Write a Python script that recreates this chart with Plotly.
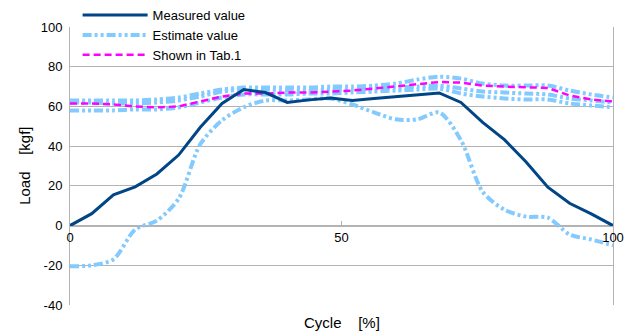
import plotly.graph_objects as go

cycle = [0, 4, 8, 12, 16, 20, 24, 28, 32, 36, 40, 44, 48, 52, 56, 60, 64, 68, 72, 76, 80, 84, 88, 92, 96, 100]

measured = [0, 6, 15.5, 19.5, 26, 35.5, 49.5, 61.5, 68.5, 67, 62, 63.3, 64.2, 63, 64, 65, 66, 66.8, 62, 52, 43.3, 32, 19.3, 11.2, 5.9, 0]

est_1 = [63, 63, 63, 63, 63.5, 64.5, 66.5, 68.5, 69.5, 69.5, 69.5, 69.5, 70, 70, 70.5, 71.5, 73.5, 75, 74, 71.5, 70.5, 70.5, 70.5, 68, 66, 64.5]
est_2 = [62, 62, 61.5, 61.5, 62, 63, 65, 67.5, 68.5, 68.5, 68, 68, 68.5, 68.5, 69, 69.5, 70, 70.5, 69, 67.5, 67, 66.5, 66, 64, 63, 62]
est_3 = [58, 58, 58, 58.5, 58.5, 59.5, 62, 64.5, 66, 66, 66, 66.5, 66.5, 67, 67.5, 68, 68.5, 69, 66.5, 65, 64, 63.5, 63.5, 61.5, 60.5, 59.5]
est_4 = [-20.5, -20, -17, -2, 2.5, 13.5, 41, 53, 59.6, 63, 63, 63.5, 64, 61, 57, 53.5, 53.5, 57, 43, 17, 8, 4.5, 4, -4.5, -7, -10]

tab1 = [61.5, 61.5, 61, 60, 59.5, 60, 62.5, 65, 66.5, 66.5, 67, 67, 67.5, 68, 69, 70, 71, 72.3, 72, 70.5, 70, 69.8, 69.3, 65.5, 63.5, 62.5]

x_ticks = [0, 50, 100]
y_ticks = [-40, -20, 0, 20, 40, 60, 80, 100]

FONT = "Liberation Sans, Arial, sans-serif"
EST_COLOR = "#83CAFF"
MEAS_COLOR = "#004586"
TAB_COLOR = "#FF00FF"
GRID = "#b3b3b3"
est_dash = "9px,3px,3px,3px,3px,3px"

fig = go.Figure()

for ys in [est_1, est_2, est_3, est_4]:
    fig.add_trace(go.Scatter(
        x=cycle, y=ys, mode="lines", name="Estimate value",
        line=dict(color=EST_COLOR, width=4, dash=est_dash, shape="spline", smoothing=0.8),
        showlegend=False,
    ))

fig.add_trace(go.Scatter(
    x=cycle, y=tab1, mode="lines", name="Shown in Tab.1",
    line=dict(color=TAB_COLOR, width=2.5, dash="7px,4px"),
    showlegend=False,
))

fig.add_trace(go.Scatter(
    x=cycle, y=measured, mode="lines", name="Measured value",
    line=dict(color=MEAS_COLOR, width=3),
    showlegend=False,
))

# legend entries (order: Measured, Estimate, Tab.1)
fig.add_trace(go.Scatter(x=[None], y=[None], mode="lines", name="Measured value",
                         line=dict(color=MEAS_COLOR, width=3), legendrank=1))
fig.add_trace(go.Scatter(x=[None], y=[None], mode="lines", name="Estimate value",
                         line=dict(color=EST_COLOR, width=4, dash=est_dash), legendrank=2))
fig.add_trace(go.Scatter(x=[None], y=[None], mode="lines", name="Shown in Tab.1",
                         line=dict(color=TAB_COLOR, width=2.5, dash="7px,4px"), legendrank=3))

fig.update_layout(
    width=632, height=332,
    margin=dict(l=70, r=19, t=27, b=27, autoexpand=False),
    paper_bgcolor="white", plot_bgcolor="white",
    font=dict(family=FONT, size=13, color="#000000"),
    legend=dict(
        x=0.014, y=1.097, xanchor="left", yanchor="top",
        bgcolor="rgba(0,0,0,0)", font=dict(size=13),
        itemwidth=65, tracegroupgap=0,
    ),
    xaxis=dict(
        range=[0, 100], tickvals=x_ticks, ticktext=[str(v) for v in x_ticks],
        showgrid=False, zeroline=False,
        showline=True, linecolor=GRID, linewidth=1,
        anchor="free", position=(0 - (-40)) / 140.0,
        ticks="inside", ticklen=5, tickcolor=GRID,
        tickfont=dict(size=13), fixedrange=True,
    ),
    yaxis=dict(
        range=[-40, 100], tickvals=y_ticks, ticktext=[str(v) for v in y_ticks],
        showgrid=True, gridcolor=GRID, gridwidth=1,
        zeroline=False, showline=True, linecolor=GRID, linewidth=1, mirror=True,
        ticks="", tickfont=dict(size=13), ticklabelstandoff=4,
    ),
    annotations=[
        dict(text="Cycle    [%]", x=0.5, y=-0.062, xref="paper", yref="paper",
             xanchor="center", yanchor="middle", showarrow=False, font=dict(size=15)),
        dict(text="Load    [kgf]", x=-0.085, y=0.5, xref="paper", yref="paper",
             xanchor="center", yanchor="middle", showarrow=False, textangle=-90,
             font=dict(size=15)),
    ],
)

fig.write_html("out.html")
